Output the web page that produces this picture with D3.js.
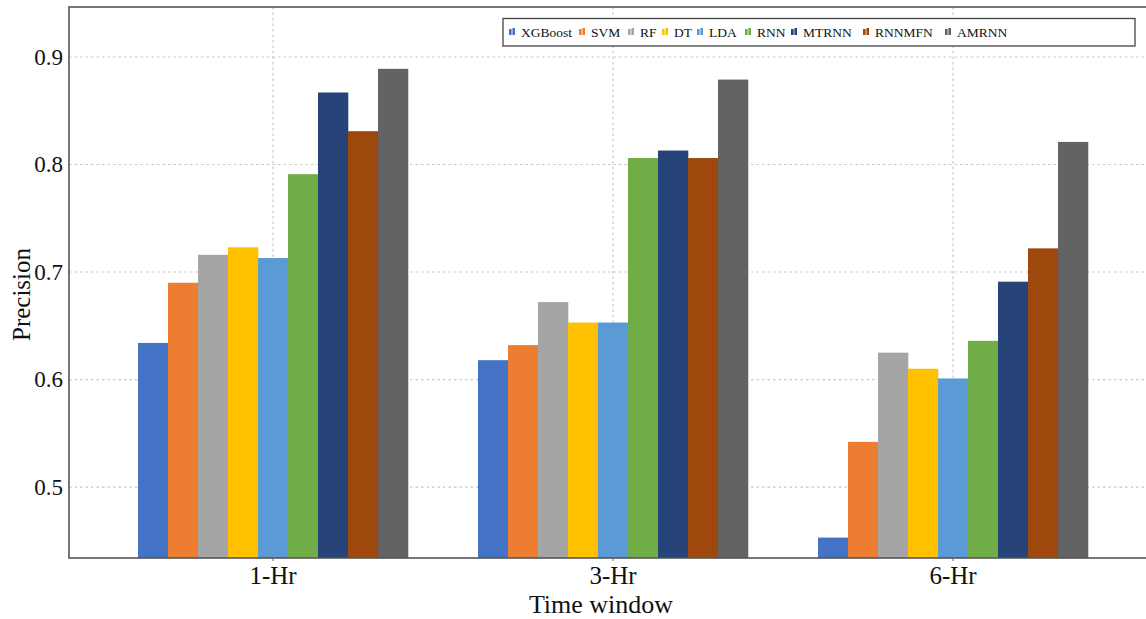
<!DOCTYPE html>
<html>
<head>
<meta charset="utf-8">
<script src="https://cdn.jsdelivr.net/npm/d3@7"></script>
<style>
  html, body { margin: 0; padding: 0; background: #fff; }
  svg { display: block; font-family: "Liberation Serif", "Times New Roman", serif; }
</style>
</head>
<body>
<svg id="chart" width="1146" height="619"></svg>
<script>
const categories = ["1-Hr", "3-Hr", "6-Hr"];
const seriesNames = ["XGBoost", "SVM", "RF", "DT", "LDA", "RNN", "MTRNN", "RNNMFN", "AMRNN"];
const seriesColors = ["#4472C4", "#ED7D31", "#A5A5A5", "#FFC000", "#5B9BD5", "#70AD47", "#264478", "#9E480E", "#636363"];
const XGBoost = [0.634, 0.618, 0.453];
const SVM     = [0.690, 0.632, 0.542];
const RF      = [0.716, 0.672, 0.625];
const DT      = [0.723, 0.653, 0.610];
const LDA     = [0.713, 0.653, 0.601];
const RNN     = [0.791, 0.806, 0.636];
const MTRNN   = [0.867, 0.813, 0.691];
const RNNMFN  = [0.831, 0.806, 0.722];
const AMRNN   = [0.889, 0.879, 0.821];
const yTicks = [0.5, 0.6, 0.7, 0.8, 0.9];
const yDomain = [0.434, 0.9465];

const seriesValues = [XGBoost, SVM, RF, DT, LDA, RNN, MTRNN, RNNMFN, AMRNN];

(function () {
const svg = d3.select("#chart");
const mL = 69, mT = 7, mB = 558, mR = 1157;

const x = d3.scaleBand().domain(categories).range([mL, mR])
  .paddingInner(0.206).paddingOuter(0.203);
const xs = d3.scaleBand().domain(seriesNames).range([0, x.bandwidth()]).padding(0);
const y = d3.scaleLinear().domain(yDomain).range([mB, mT]);

// grid
const grid = svg.append("g");
grid.selectAll("line.h").data(yTicks).join("line")
  .attr("x1", mL).attr("x2", mR)
  .attr("y1", d => y(d)).attr("y2", d => y(d))
  .attr("stroke", "#c8c8c8").attr("stroke-width", 1.2).attr("stroke-dasharray", "2.5,3");
grid.selectAll("line.v").data(categories).join("line")
  .attr("x1", d => x(d) + x.bandwidth() / 2).attr("x2", d => x(d) + x.bandwidth() / 2)
  .attr("y1", mT).attr("y2", mB)
  .attr("stroke", "#c8c8c8").attr("stroke-width", 1.2).attr("stroke-dasharray", "2.5,3");

// bars
const data = [];
categories.forEach((c, ci) => seriesNames.forEach((s, si) => data.push({c, s, si, v: seriesValues[si][ci]})));
svg.append("g").selectAll("rect").data(data).join("rect")
  .attr("x", d => x(d.c) + xs(d.s))
  .attr("width", xs.bandwidth() + 0.3)
  .attr("y", d => y(d.v))
  .attr("height", d => mB - y(d.v))
  .attr("fill", d => seriesColors[d.si]);

// axes
const yAxis = svg.append("g").attr("transform", `translate(${mL},0)`)
  .call(d3.axisLeft(y).tickValues(yTicks).tickFormat(d3.format(".1f")).tickSize(0).tickPadding(6));
yAxis.select(".domain").remove();
yAxis.selectAll("text").attr("font-size", 23).attr("fill", "#111").attr("font-family", "Liberation Serif");

const xAxis = svg.append("g").attr("transform", `translate(0,${mB})`)
  .call(d3.axisBottom(x).tickSize(3).tickPadding(5));
xAxis.select(".domain").remove();
xAxis.selectAll("line").attr("stroke", "#666");
xAxis.selectAll("text").attr("font-size", 25).attr("fill", "#111").attr("font-family", "Liberation Serif");

// frame
svg.append("rect").attr("x", mL).attr("y", mT).attr("width", mR - mL).attr("height", mB - mT)
  .attr("fill", "none").attr("stroke", "#555").attr("stroke-width", 1.6);

// axis titles
svg.append("text").attr("x", x(categories[1]) + x.bandwidth() / 2 - 12).attr("y", 613)
  .attr("text-anchor", "middle").attr("font-size", 26).attr("fill", "#111").text("Time window");
svg.append("text").attr("transform", `translate(30,${(mT + mB) / 2 + 12}) rotate(-90)`)
  .attr("text-anchor", "middle").attr("font-size", 25).attr("fill", "#111").text("Precision");

// legend
const legendX = [509, 579, 628, 662, 697, 745, 791, 863, 945];
const lg = svg.append("g");
lg.append("rect").attr("x", 503).attr("y", 18.5).attr("width", 632).attr("height", 27.5)
  .attr("fill", "#fff").attr("stroke", "#444").attr("stroke-width", 1.3);
seriesNames.forEach((s, i) => {
  const g = lg.append("g").attr("transform", `translate(${legendX[i]},32)`);
  g.append("rect").attr("x", 0).attr("y", -3).attr("width", 2.6).attr("height", 6).attr("fill", seriesColors[i]);
  g.append("rect").attr("x", 3.4).attr("y", -4).attr("width", 2.6).attr("height", 7).attr("fill", seriesColors[i]);
  g.append("text").attr("x", 12).attr("y", 5).attr("font-size", 13.5).attr("fill", "#111").text(s);
});
})();
</script>
</body>
</html>
